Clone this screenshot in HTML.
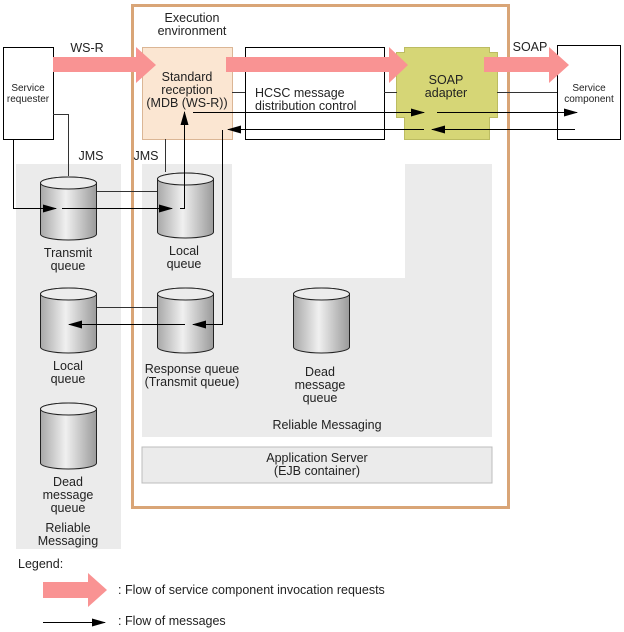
<!DOCTYPE html>
<html><head><meta charset="utf-8"><style>
body{margin:0;background:#fff}
svg{display:block}
text{font-family:"Liberation Sans",sans-serif;font-size:12.5px;fill:#222}
</style></head><body>
<svg width="624" height="632" viewBox="0 0 624 632" xmlns="http://www.w3.org/2000/svg">
<defs>
<linearGradient id="cg" x1="0" x2="1" y1="0" y2="0">
<stop offset="0" stop-color="#a8a8a8"/><stop offset="0.45" stop-color="#f0f0f0"/><stop offset="1" stop-color="#9a9a9a"/>
</linearGradient>
<marker id="ah" markerWidth="14" markerHeight="8" refX="13" refY="4" orient="auto" markerUnits="userSpaceOnUse">
<path d="M0,0 L14,4 L0,8 z" fill="#000"/></marker>
</defs>
<rect x="16" y="164" width="105" height="385" fill="#ebebeb"/>
<rect x="142" y="164" width="350" height="273" fill="#ebebeb"/>
<rect x="232" y="164" width="173" height="114" fill="#fff"/>
<rect x="142" y="447" width="350" height="36" fill="#ebebeb" stroke="#bdbdbd"/>
<rect x="132.5" y="5.5" width="376" height="502" fill="none" stroke="#d9a577" stroke-width="3"/>
<rect x="3.5" y="47.5" width="50" height="92" fill="#fff" stroke="#000"/>
<rect x="142.5" y="47.5" width="90" height="92" fill="#fbe6d2" stroke="#dbb695"/>
<rect x="245.5" y="47.5" width="139" height="92" fill="#fff" stroke="#000"/>
<path d="M404.5,47.5 H489.5 V52.5 H497.5 V117.5 H489.5 V139.5 H404.5 V117.5 H396.5 V52.5 H404.5 Z" fill="#d6d676" stroke="#bcbc62"/>
<rect x="557.5" y="45.5" width="63" height="94" fill="#fff" stroke="#000"/>
<path d="M53,57 H136 V47 L156,65 L136,83 V72 H53 Z" fill="#f99393"/>
<path d="M226,57 H389 V47 L408,65 L389,83 V72 H226 Z" fill="#f99393"/>
<path d="M484,57 H549 V47 L569,65 L549,83 V72 H484 Z" fill="#f99393"/>
<g stroke="#333" stroke-width="1" fill="none">
<path d="M232,92.5 H245"/><path d="M384,92.5 H397"/><path d="M497,92.5 H557"/>
<path d="M53,114.5 H68.5 V176"/>
<path d="M165.5,139 V172"/>
<path d="M97,191.5 H157"/>
<path d="M97,307.5 H157"/>
</g>
<g stroke="#222" stroke-width="1" fill="url(#cg)">
<path d="M40.5,183 V234 A28,6 0 0 0 96.5,234 V183 A28,6 0 0 0 40.5,183 Z"/><ellipse cx="68.5" cy="183" rx="28" ry="6" fill="#ececec"/>
<path d="M157.5,179 V232 A28,6 0 0 0 213.5,232 V179 A28,6 0 0 0 157.5,179 Z"/><ellipse cx="185.5" cy="179" rx="28" ry="6" fill="#ececec"/>
<path d="M40.5,294 V347 A28,6 0 0 0 96.5,347 V294 A28,6 0 0 0 40.5,294 Z"/><ellipse cx="68.5" cy="294" rx="28" ry="6" fill="#ececec"/>
<path d="M157.5,294 V347 A28,6 0 0 0 213.5,347 V294 A28,6 0 0 0 157.5,294 Z"/><ellipse cx="185.5" cy="294" rx="28" ry="6" fill="#ececec"/>
<path d="M293.5,294 V347 A28,6 0 0 0 349.5,347 V294 A28,6 0 0 0 293.5,294 Z"/><ellipse cx="321.5" cy="294" rx="28" ry="6" fill="#ececec"/>
<path d="M40.5,409 V463 A28,6 0 0 0 96.5,463 V409 A28,6 0 0 0 40.5,409 Z"/><ellipse cx="68.5" cy="409" rx="28" ry="6" fill="#ececec"/>
</g>
<g stroke="#000" stroke-width="1" fill="none">
<path d="M13.5,139 V208.5 H56" marker-end="url(#ah)"/>
<path d="M62,208.5 H172" marker-end="url(#ah)"/>
<path d="M180,208.5 H184.5 V112" marker-end="url(#ah)"/>
<path d="M193,112.5 H424" marker-end="url(#ah)"/>
<path d="M437,112.5 H577" marker-end="url(#ah)"/>
<path d="M575,129.5 H432" marker-end="url(#ah)"/>
<path d="M424,129.5 H228" marker-end="url(#ah)"/>
<path d="M222.5,130 V324.5 H193" marker-end="url(#ah)"/>
<path d="M185,324.5 H69" marker-end="url(#ah)"/>
<path d="M43,622.5 H105" marker-end="url(#ah)"/>
</g>
<path d="M43,582 H88 V573 L107,590 L88,607 V598 H43 Z" fill="#f99393"/>
<g text-anchor="middle">
<text x="192" y="22">Execution</text><text x="192" y="35">environment</text>
<text x="87" y="52">WS-R</text>
<text x="530" y="51">SOAP</text>
<text x="28" y="91" style="font-size:10px">Service</text><text x="28" y="102" style="font-size:10px">requester</text>
<text x="187" y="81">Standard</text><text x="187" y="94">reception</text><text x="187" y="107">(MDB (WS-R))</text>
<text x="446" y="84">SOAP</text><text x="446" y="97">adapter</text>
<text x="589" y="91" style="font-size:10px">Service</text><text x="589" y="102" style="font-size:10px">component</text>
<text x="91" y="160">JMS</text><text x="146" y="160">JMS</text>
<text x="68" y="257">Transmit</text><text x="68" y="270">queue</text>
<text x="184" y="255">Local</text><text x="184" y="268">queue</text>
<text x="68" y="370">Local</text><text x="68" y="383">queue</text>
<text x="192" y="373">Response queue</text><text x="192" y="386">(Transmit queue)</text>
<text x="320" y="376">Dead</text><text x="320" y="389">message</text><text x="320" y="402">queue</text>
<text x="327" y="429">Reliable Messaging</text>
<text x="317" y="462">Application Server</text><text x="317" y="475">(EJB container)</text>
<text x="68" y="486">Dead</text><text x="68" y="499">message</text><text x="68" y="512">queue</text>
<text x="68" y="532">Reliable</text><text x="68" y="545">Messaging</text>
</g>
<text x="255" y="97">HCSC message</text>
<text x="255" y="100" dy="10">distribution control</text>
<text x="18" y="568">Legend:</text>
<text x="118" y="594">: Flow of service component invocation requests</text>
<text x="118" y="625">: Flow of messages</text>
</svg>
</body></html>
